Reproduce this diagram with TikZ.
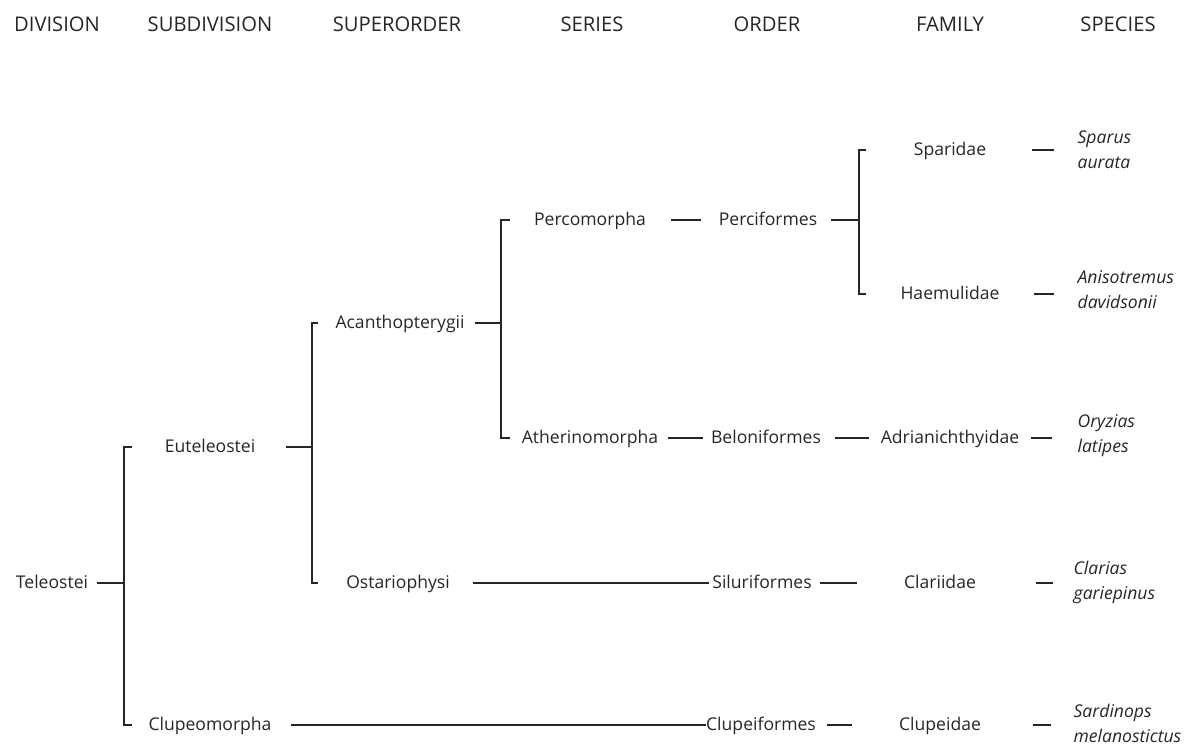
\documentclass[tikz,border=0pt]{standalone}
\usepackage{fontspec}
\setmainfont{Open Sans}
\begin{document}
\begin{tikzpicture}[x=0.02cm, y=-0.02cm, line width=0.7pt, color=black!85,
    rank/.style={font=\fontsize{11.5}{14}\selectfont, inner sep=0pt},
    taxon/.style={font=\fontsize{10}{14}\selectfont, inner sep=0pt, text height=1.6ex, text depth=.4ex},
    species/.style={font=\fontsize{10}{14.2}\selectfont\itshape, inner sep=0pt, align=left, anchor=west}]
      \useasboundingbox (0,0) rectangle (1199,745);

      \node[rank] (hDiv) at (57,24) {DIVISION};
      \node[rank] (hSub) at (210,24) {SUBDIVISION};
      \node[rank] (hSup) at (397,24) {SUPERORDER};
      \node[rank] (hSer) at (592,24) {SERIES};
      \node[rank] (hOrd) at (767,24) {ORDER};
      \node[rank] (hFam) at (950,24) {FAMILY};
      \node[rank] (hSpe) at (1118,24) {SPECIES};

      \node[taxon] (tel) at (52,583) {Teleostei};
      \node[taxon] (eut) at (210,447) {Euteleostei};
      \node[taxon] (clm) at (210,725) {Clupeomorpha};
      \node[taxon] (aca) at (400,323) {Acanthopterygii};
      \node[taxon] (ost) at (398,583) {Ostariophysi};
      \node[taxon] (per) at (590,220) {Percomorpha};
      \node[taxon] (ath) at (590,438) {Atherinomorpha};
      \node[taxon] (pcf) at (768,220) {Perciformes};
      \node[taxon] (bel) at (766,438) {Beloniformes};
      \node[taxon] (sil) at (762,583) {Siluriformes};
      \node[taxon] (clf) at (761,725) {Clupeiformes};
      \node[taxon] (spa) at (950,150) {Sparidae};
      \node[taxon] (hae) at (950,294) {Haemulidae};
      \node[taxon] (adr) at (950,438) {Adrianichthyidae};
      \node[taxon] (cla) at (940,583) {Clariidae};
      \node[taxon] (clp) at (940,725) {Clupeidae};

      \node[species] (spSpa) at (1077,150) {Sparus\\aurata};
      \node[species] (spHae) at (1077,290) {Anisotremus\\davidsonii};
      \node[species] (spAdr) at (1077,436) {Oryzias\\latipes};
      \node[species] (spCla) at (1073,582) {Clarias\\gariepinus};
      \node[species] (spClp) at (1073,723) {Sardinops\\melanostictus};

      \coordinate (kTel) at (124,583);
      \coordinate (kEut) at (312,447);
      \coordinate (kAca) at (501,323);
      \coordinate (kPcf) at (859,220);

      \draw [shorten <=0.16cm] (tel) -- (kTel);
      \draw ([xshift=0.16cm]kTel |- eut) -- (kTel |- eut) -- (kTel |- clm) -- ++(8,0);

      \draw [shorten <=0.6cm] (eut) -- (kEut);
      \draw ([xshift=0.12cm]kEut |- aca) -- (kEut |- aca) -- (kEut |- ost) -- ++(6,0);

      \draw [shorten <=0.2cm] (aca) -- (kAca);
      \draw ([xshift=0.18cm]kAca |- per) -- (kAca |- per) -- (kAca |- ath) -- ++(9,0);

      \draw [shorten <=0.26cm] (pcf) -- (kPcf);
      \draw ([xshift=0.14cm]kPcf |- spa) -- (kPcf |- spa) -- (kPcf |- hae) -- ++(7,0);

      \draw [shorten <=0.5cm, shorten >=0.34cm] (per) -- (pcf);
      \draw [shorten <=0.18cm, shorten >=0.14cm] (ath) -- (bel);
      \draw [shorten <=0.26cm, shorten >=0.22cm] (bel) -- (adr);
      \draw [shorten <=0.46cm, shorten >=0.06cm] (ost) -- (sil);
      \draw [shorten <=0.16cm, shorten >=0.94cm] (sil) -- (cla);
      \draw [shorten <=0.38cm] (clm) -- (clf);
      \draw [shorten <=0.22cm, shorten >=0.94cm] (clf) -- (clp);

      \draw [shorten <=0.9cm, shorten >=0.46cm] (spa) -- (spSpa.west |- spa);
      \draw [shorten <=0.68cm, shorten >=0.46cm] (hae) -- (spHae.west |- hae);
      \draw [shorten <=0.22cm, shorten >=0.5cm] (adr) -- (spAdr.west |- adr);
      \draw [shorten <=1.2cm, shorten >=0.4cm] (cla) -- (spCla.west |- cla);
      \draw [shorten <=1.02cm, shorten >=0.44cm] (clp) -- (spClp.west |- clp);
    \end{tikzpicture}
\end{document}
